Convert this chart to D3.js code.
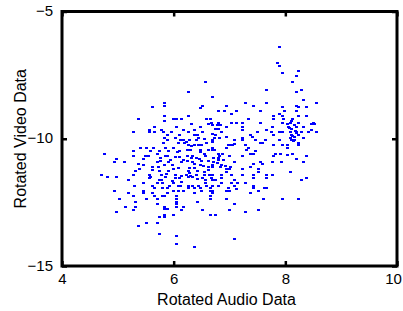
<!DOCTYPE html>
<html>
<head>
<meta charset="utf-8">
<script src="https://cdn.jsdelivr.net/npm/d3@7"></script>
<style>
  html, body { margin: 0; padding: 0; background: #fff; }
  text { font-family: "Liberation Sans", Arial, Helvetica, sans-serif; }
</style>
</head>
<body>
<div id="scatter_chart"></div>
<script>
const audioTicks = [4, 6, 8, 10];
const videoTicks = [-15, -10, -5];
const xLabel = 'Rotated Audio Data';
const yLabel = 'Rotated Video Data';

// [rotated audio, rotated video], row by row
const samples = [
  [7.86, -6.37], [7.83, -7.00], [7.86, -7.12], [8.20, -7.31], [7.92, -7.39], [8.17, -7.51],
  [8.11, -7.75], [6.54, -7.75], [7.63, -8.06], [8.26, -8.06], [8.17, -8.14], [6.24, -8.14],
  [6.67, -8.33], [8.29, -8.45],
  [5.81, -8.57], [7.26, -8.57], [7.63, -8.57], [8.54, -8.57],
  [5.81, -8.69], [6.49, -8.69], [6.92, -8.69], [7.40, -8.69], [8.17, -8.69],
  [5.59, -8.73], [7.92, -8.73], [8.20, -8.73], [8.35, -8.73], [6.45, -8.76],
  [6.77, -8.88], [6.88, -8.88], [7.09, -8.88], [7.52, -8.88], [7.95, -8.88], [8.17, -8.88],
  [7.01, -9.00], [7.86, -9.00],
  [5.81, -9.08], [6.24, -9.08], [7.76, -9.08], [7.92, -9.08], [8.20, -9.08], [8.35, -9.08],
  [5.34, -9.20], [5.97, -9.20], [6.02, -9.20], [6.11, -9.20], [6.56, -9.20], [6.63, -9.20],
  [7.31, -9.20], [7.76, -9.20], [7.94, -9.20], [8.11, -9.20], [5.81, -9.27],
  [6.65, -9.35], [6.77, -9.35], [7.01, -9.35], [7.09, -9.35], [7.20, -9.35], [7.52, -9.35],
  [7.92, -9.35], [8.06, -9.35], [8.20, -9.35], [8.47, -9.35],
  [6.29, -9.39], [6.59, -9.39], [8.44, -9.39], [8.49, -9.39],
  [6.67, -9.43], [6.75, -9.43], [6.81, -9.43],
  [5.63, -9.51], [6.02, -9.51], [6.45, -9.51], [6.92, -9.51], [7.20, -9.51], [7.74, -9.51],
  [8.03, -9.51], [8.17, -9.51], [8.29, -9.51],
  [6.72, -9.59], [6.77, -9.59], [8.08, -9.59],
  [5.54, -9.63], [5.75, -9.63], [6.15, -9.63], [6.34, -9.63], [7.20, -9.63], [7.63, -9.63], [8.44, -9.63],
  [5.25, -9.71], [5.54, -9.71], [5.63, -9.71], [5.79, -9.71], [5.93, -9.71], [6.24, -9.71],
  [6.49, -9.71], [6.83, -9.71], [7.47, -9.71], [7.72, -9.71], [7.86, -9.71], [7.92, -9.71],
  [8.06, -9.71], [8.17, -9.71], [8.26, -9.71], [8.38, -9.71], [8.54, -9.71],
  [6.67, -9.78],
  [5.86, -9.82], [6.08, -9.82], [6.34, -9.82], [6.40, -9.82], [6.72, -9.82], [7.35, -9.82],
  [7.77, -9.82], [8.08, -9.82], [8.20, -9.82],
  [6.92, -9.90], [7.38, -9.90],
  [5.81, -9.94], [6.00, -9.94], [6.42, -9.94], [6.70, -9.94], [7.20, -9.94], [8.29, -9.94],
  [6.52, -9.98],
  [5.86, -10.02], [6.15, -10.02], [6.25, -10.02], [6.38, -10.02], [6.67, -10.02], [7.06, -10.02],
  [7.20, -10.02], [7.43, -10.02], [7.61, -10.02], [7.86, -10.02], [8.08, -10.02], [8.13, -10.02],
  [6.67, -10.10],
  [5.79, -10.14], [6.06, -10.14], [6.16, -10.14], [6.56, -10.14], [7.52, -10.14], [7.56, -10.14], [8.20, -10.14],
  [7.06, -10.18],
  [6.24, -10.22], [6.34, -10.22], [6.42, -10.22], [6.47, -10.22], [6.97, -10.22], [7.02, -10.22],
  [7.26, -10.22], [7.77, -10.22], [7.92, -10.22], [8.01, -10.22], [8.20, -10.22],
  [5.38, -10.33], [5.48, -10.33], [5.61, -10.33], [5.82, -10.33], [5.97, -10.33], [6.67, -10.33],
  [6.92, -10.33], [7.31, -10.33], [8.01, -10.33],
  [6.22, -10.41], [6.27, -10.41], [6.45, -10.41], [6.59, -10.41], [6.67, -10.41], [7.28, -10.41],
  [5.25, -10.45], [5.56, -10.45], [5.72, -10.45], [5.88, -10.45], [6.08, -10.45], [7.43, -10.45],
  [4.73, -10.57], [5.68, -10.57], [6.52, -10.57], [6.77, -10.57], [7.35, -10.57], [7.40, -10.57],
  [7.79, -10.57], [7.88, -10.57], [8.11, -10.57],
  [8.01, -10.61],
  [5.25, -10.65], [5.47, -10.65], [5.52, -10.65], [5.82, -10.65], [5.86, -10.65], [6.22, -10.65],
  [6.31, -10.65], [6.79, -10.65], [6.97, -10.65], [7.20, -10.65], [7.77, -10.65], [8.35, -10.65],
  [6.00, -10.69], [6.08, -10.69],
  [5.74, -10.73], [6.38, -10.73], [6.68, -10.73], [6.77, -10.73],
  [4.95, -10.76], [5.43, -10.76], [6.43, -10.76], [8.17, -10.76],
  [5.91, -10.80], [6.77, -10.80], [6.86, -10.80],
  [5.74, -10.84], [6.22, -10.84], [6.47, -10.84], [6.59, -10.84],
  [4.91, -10.88], [5.09, -10.88], [5.68, -10.88], [5.88, -10.88], [6.11, -10.88], [6.31, -10.88],
  [6.68, -10.88], [7.06, -10.88], [7.52, -10.88], [7.74, -10.88], [7.90, -10.88], [8.29, -10.88],
  [5.34, -10.96], [7.40, -10.96], [7.56, -10.96],
  [5.43, -11.00], [5.81, -11.00], [5.95, -11.00], [6.45, -11.00], [6.67, -11.00], [6.83, -11.00],
  [5.59, -11.08], [5.70, -11.08], [6.59, -11.08], [6.67, -11.08], [6.81, -11.08], [6.99, -11.08], [7.35, -11.08],
  [6.06, -11.12], [6.25, -11.12], [6.34, -11.12],
  [5.36, -11.16], [5.97, -11.16], [6.92, -11.16], [6.97, -11.16], [7.20, -11.16], [7.49, -11.16],
  [5.59, -11.20],
  [5.29, -11.24], [5.72, -11.24], [5.88, -11.24], [6.24, -11.24], [6.40, -11.24],
  [6.52, -11.27], [6.92, -11.27], [7.49, -11.27], [8.06, -11.27],
  [4.68, -11.39], [5.25, -11.39], [5.54, -11.39], [5.75, -11.39], [6.00, -11.39], [6.20, -11.39],
  [6.38, -11.39], [6.52, -11.39], [6.61, -11.39], [6.67, -11.39], [6.83, -11.39], [7.20, -11.39],
  [7.40, -11.39], [7.63, -11.39], [7.74, -11.39],
  [6.11, -11.43], [6.27, -11.43],
  [4.79, -11.47], [4.95, -11.47], [5.56, -11.47], [5.82, -11.47], [6.24, -11.47], [6.31, -11.47],
  [5.54, -11.51], [6.00, -11.51], [6.08, -11.51], [6.49, -11.51], [6.65, -11.51], [6.83, -11.51],
  [7.40, -11.51], [7.63, -11.51], [8.35, -11.51],
  [5.16, -11.59], [5.72, -11.59], [6.54, -11.59], [6.67, -11.59], [6.72, -11.59], [7.06, -11.59], [8.26, -11.59],
  [5.95, -11.63], [6.11, -11.67],
  [5.43, -11.71], [5.68, -11.71], [5.77, -11.71], [5.97, -11.71], [6.83, -11.71], [7.01, -11.71],
  [7.11, -11.71], [7.26, -11.71],
  [5.27, -11.82], [5.59, -11.82], [5.90, -11.82], [6.06, -11.82], [6.24, -11.82], [6.31, -11.82],
  [6.42, -11.82], [6.56, -11.82], [6.67, -11.82], [6.77, -11.82], [7.06, -11.82], [7.40, -11.82],
  [5.63, -11.90], [5.77, -11.90], [5.86, -11.90], [6.24, -11.90], [6.34, -11.90], [6.45, -11.90],
  [6.63, -11.90], [6.95, -11.90], [7.40, -11.90], [7.60, -11.90], [7.63, -11.90],
  [7.09, -11.94],
  [4.91, -12.02], [5.43, -12.02], [5.97, -12.02], [6.06, -12.02], [6.15, -12.02], [6.47, -12.02],
  [6.63, -12.02], [6.67, -12.02], [6.92, -12.02], [6.97, -12.02], [7.49, -12.02],
  [5.16, -12.10], [5.43, -12.10], [5.59, -12.10], [5.86, -12.10], [6.34, -12.10], [6.67, -12.10], [7.35, -12.10],
  [5.25, -12.22], [5.63, -12.22], [5.77, -12.22], [5.81, -12.22], [6.02, -12.22], [6.63, -12.22],
  [5.00, -12.33], [5.48, -12.33], [5.68, -12.33], [6.02, -12.33], [6.63, -12.33], [6.92, -12.33],
  [7.58, -12.33], [7.92, -12.33], [8.20, -12.33],
  [5.29, -12.45], [6.02, -12.45], [6.40, -12.45],
  [5.68, -12.53], [6.02, -12.53], [7.06, -12.53],
  [5.11, -12.65], [5.29, -12.65], [5.81, -12.65], [6.02, -12.65], [6.15, -12.65],
  [5.81, -12.73], [5.86, -12.73],
  [5.25, -12.76], [6.11, -12.76], [6.49, -12.76], [6.97, -12.76], [7.49, -12.76],
  [4.95, -12.84], [7.26, -12.84],
  [5.81, -12.96], [5.97, -12.96], [6.63, -12.96], [6.72, -12.96],
  [5.72, -13.04], [5.81, -13.04],
  [5.48, -13.27], [5.68, -13.27], [5.34, -13.39], [5.72, -13.71], [6.02, -13.78],
  [7.06, -13.90], [6.02, -14.10], [6.34, -14.22],
  // dense overlapping patches
  [8.08, -9.27], [8.13, -9.43], [8.04, -9.55], [8.15, -9.67], [8.10, -9.86], [8.06, -9.94],
  [8.12, -10.06], [8.02, -9.39], [8.18, -9.75], [8.14, -9.90],
  [6.10, -10.00], [6.20, -10.10], [6.30, -10.25], [6.45, -10.50], [6.55, -10.65], [6.05, -10.50],
  [6.15, -10.80], [6.35, -10.95], [6.50, -11.05], [6.60, -11.20], [6.25, -11.30], [6.40, -11.55],
  [6.70, -10.40], [6.75, -10.90], [6.85, -10.55], [6.90, -11.05], [6.80, -9.95], [6.95, -10.20],
  [7.00, -11.40], [5.95, -11.00], [5.85, -11.35], [6.10, -11.80], [5.75, -11.60], [6.55, -11.70],
  [6.30, -10.70]
];

const width = 403;
const height = 311;

const xScale = d3.scaleLinear().domain([4, 10]).range([62, 397]);
const yScale = d3.scaleLinear().domain([-15, -5]).range([266, 11.5]);

const svg = d3
  .select('#scatter_chart')
  .append('svg')
  .attr('width', width)
  .attr('height', height);

// points: small blue dashes
svg
  .append('g')
  .selectAll('rect')
  .data(samples)
  .enter()
  .append('rect')
  .attr('x', (d) => xScale(d[0]))
  .attr('y', (d) => yScale(d[1]))
  .attr('width', 3)
  .attr('height', 2)
  .attr('fill', '#0000ff')
  .attr('shape-rendering', 'crispEdges');

const styleAxis = (g) => {
  g.select('.domain').remove();
  g.selectAll('.tick line').attr('stroke', '#000').attr('stroke-width', 2.5);
  g.selectAll('.tick text').attr('fill', '#000').style('font-size', '15px');
};

const [x0, x1] = xScale.range();
const [y0, y1] = yScale.range();

svg
  .append('g')
  .attr('transform', `translate(0,${y0})`)
  .call(d3.axisBottom(xScale).tickValues(audioTicks).tickSizeInner(-5).tickSizeOuter(0).tickPadding(7).tickFormat(d3.format('d')))
  .call(styleAxis)
  .selectAll('.tick text')
  .filter((d) => d === 10)
  .attr('dx', '-4');

svg
  .append('g')
  .attr('transform', `translate(0,${y1})`)
  .call(d3.axisTop(xScale).tickValues(audioTicks).tickSizeInner(-5).tickSizeOuter(0).tickFormat(''))
  .call(styleAxis);

svg
  .append('g')
  .attr('transform', `translate(${x0},0)`)
  .call(d3.axisLeft(yScale).tickValues(videoTicks).tickSizeInner(-5).tickSizeOuter(0).tickPadding(9).tickFormat(d3.format('d')))
  .call(styleAxis)
  .selectAll('.tick text')
  .attr('dy', '0.28em');

svg
  .append('g')
  .attr('transform', `translate(${x1},0)`)
  .call(d3.axisRight(yScale).tickValues(videoTicks).tickSizeInner(-5).tickSizeOuter(0).tickFormat(''))
  .call(styleAxis);

// box frame
svg
  .append('rect')
  .attr('x', x0)
  .attr('y', y1)
  .attr('width', x1 - x0)
  .attr('height', y0 - y1)
  .attr('fill', 'none')
  .attr('stroke', '#000')
  .attr('stroke-width', 3);

svg
  .append('text')
  .attr('x', (x0 + x1) / 2 - 3)
  .attr('y', 305)
  .attr('text-anchor', 'middle')
  .style('font-size', '16px')
  .text(xLabel);

svg
  .append('text')
  .attr('transform', `translate(26,${(y0 + y1) / 2}) rotate(-90)`)
  .attr('text-anchor', 'middle')
  .style('font-size', '16px')
  .text(yLabel);
</script>
</body>
</html>
